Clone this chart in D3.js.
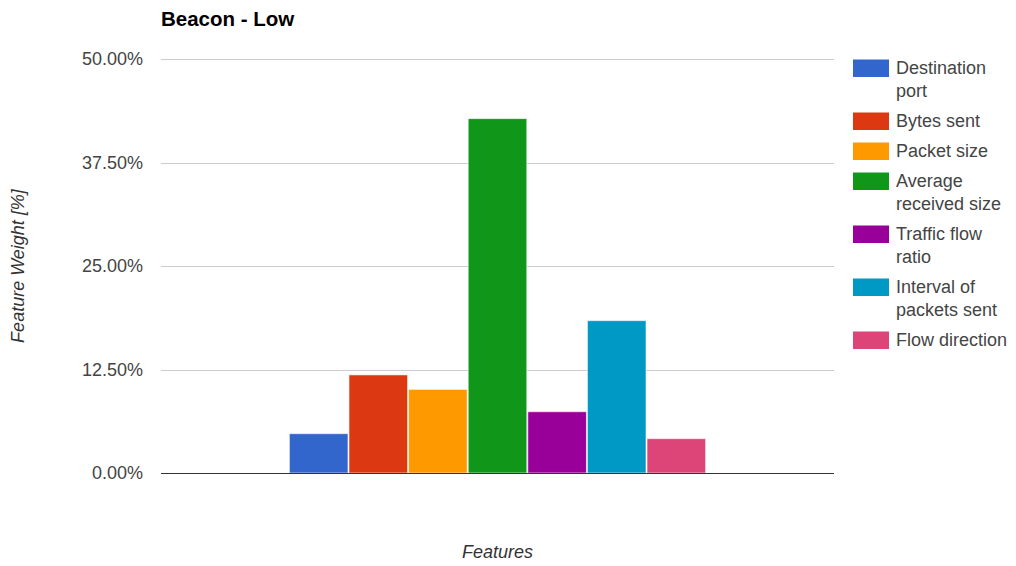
<!DOCTYPE html>
<html>
<head>
<meta charset="utf-8">
<script src="https://cdn.jsdelivr.net/npm/d3@7"></script>
<style>
  html, body { margin: 0; padding: 0; background: #fff; }
  svg { display: block; font-family: "Liberation Sans", Arial, sans-serif; }
</style>
</head>
<body>
<svg id="chart" width="1016" height="566"></svg>
<script>
// Feature weights for the "Beacon - Low" profile
const features = [
  "Destination port",
  "Bytes sent",
  "Packet size",
  "Average received size",
  "Traffic flow ratio",
  "Interval of packets sent",
  "Flow direction"
];
const weights = [4.75, 11.85, 10.1, 42.8, 7.4, 18.4, 4.15];
const colors = ["#3366cc", "#dc3912", "#ff9900", "#109618", "#990099", "#0099c6", "#dd4477"];
const yTicks = [0, 12.5, 25, 37.5, 50];

const svg = d3.select("#chart");
const plot = { left: 161, right: 834, top: 59, bottom: 473 };

const y = d3.scaleLinear().domain([0, 50]).range([plot.bottom, plot.top]);

// Single category group occupying the middle of the plot
const groupWidth = (plot.right - plot.left) * 0.62;
const groupLeft = (plot.left + plot.right) / 2 - groupWidth / 2;
const x = d3.scaleBand().domain(features).range([groupLeft, groupLeft + groupWidth]).paddingInner(0);

// Gridlines
svg.append("g")
  .selectAll("line")
  .data(yTicks.filter(d => d !== 0))
  .join("line")
  .attr("x1", plot.left).attr("x2", plot.right)
  .attr("y1", d => Math.round(y(d)) + 0.5).attr("y2", d => Math.round(y(d)) + 0.5)
  .attr("stroke", "#cccccc").attr("stroke-width", 1);

// Y axis labels
const yAxis = d3.axisLeft(y).tickValues(yTicks).tickSize(0).tickPadding(0)
  .tickFormat(d => d.toFixed(2) + "%");
const yg = svg.append("g").attr("transform", `translate(143,0)`).call(yAxis);
yg.select(".domain").remove();
yg.selectAll("text")
  .attr("fill", "#444444")
  .style("font-size", "18px")
  .style("font-family", "'Liberation Sans', Arial, sans-serif");

// Bars
svg.append("g")
  .selectAll("rect")
  .data(features)
  .join("rect")
  .attr("x", d => x(d) + 0.5)
  .attr("width", x.bandwidth() - 1)
  .attr("y", (d, i) => y(weights[i]))
  .attr("height", (d, i) => y(0) - y(weights[i]))
  .attr("fill", (d, i) => colors[i])
  .attr("stroke", "#ffffff").attr("stroke-opacity", 0.6).attr("stroke-width", 1);

// Baseline
svg.append("line")
  .attr("x1", plot.left).attr("x2", plot.right)
  .attr("y1", Math.round(y(0)) + 0.5).attr("y2", Math.round(y(0)) + 0.5)
  .attr("stroke", "#333333").attr("stroke-width", 1.2);

// Title
svg.append("text")
  .attr("x", 161).attr("y", 26)
  .attr("fill", "#000")
  .style("font-size", "20.5px").style("font-weight", "bold")
  .text("Beacon - Low");

// Axis titles
svg.append("text")
  .attr("x", (plot.left + plot.right) / 2).attr("y", 558)
  .attr("text-anchor", "middle")
  .attr("fill", "#333333")
  .style("font-size", "18px").style("font-style", "italic")
  .text("Features");

svg.append("text")
  .attr("transform", `translate(24,${(plot.top + plot.bottom) / 2}) rotate(-90)`)
  .attr("text-anchor", "middle")
  .attr("fill", "#333333")
  .style("font-size", "18px").style("font-style", "italic")
  .text("Feature Weight [%]");

// Legend with word-wrapped labels
const legend = svg.append("g");
const lineH = 23, itemGap = 30, maxW = 118;
let cy = 68;
features.forEach((name, i) => {
  const item = legend.append("g");
  item.append("rect")
    .attr("x", 853).attr("y", cy - 8.5)
    .attr("width", 36).attr("height", 17.5)
    .attr("fill", colors[i]);
  const t = item.append("text")
    .attr("x", 896).attr("y", cy)
    .attr("dy", "0.35em")
    .attr("fill", "#444444")
    .style("font-size", "18px");
  const words = name.split(" ");
  let lines = [], cur = [];
  words.forEach(w => {
    const trial = cur.concat([w]).join(" ");
    t.text(trial);
    if (cur.length && t.node().getComputedTextLength() > maxW) {
      lines.push(cur.join(" "));
      cur = [w];
    } else {
      cur.push(w);
    }
  });
  lines.push(cur.join(" "));
  t.text(null);
  lines.forEach((ln, k) => {
    t.append("tspan").attr("x", 896).attr("y", cy + k * lineH).attr("dy", "0.35em").text(ln);
  });
  cy += itemGap + (lines.length - 1) * lineH;
});
</script>
</body>
</html>
